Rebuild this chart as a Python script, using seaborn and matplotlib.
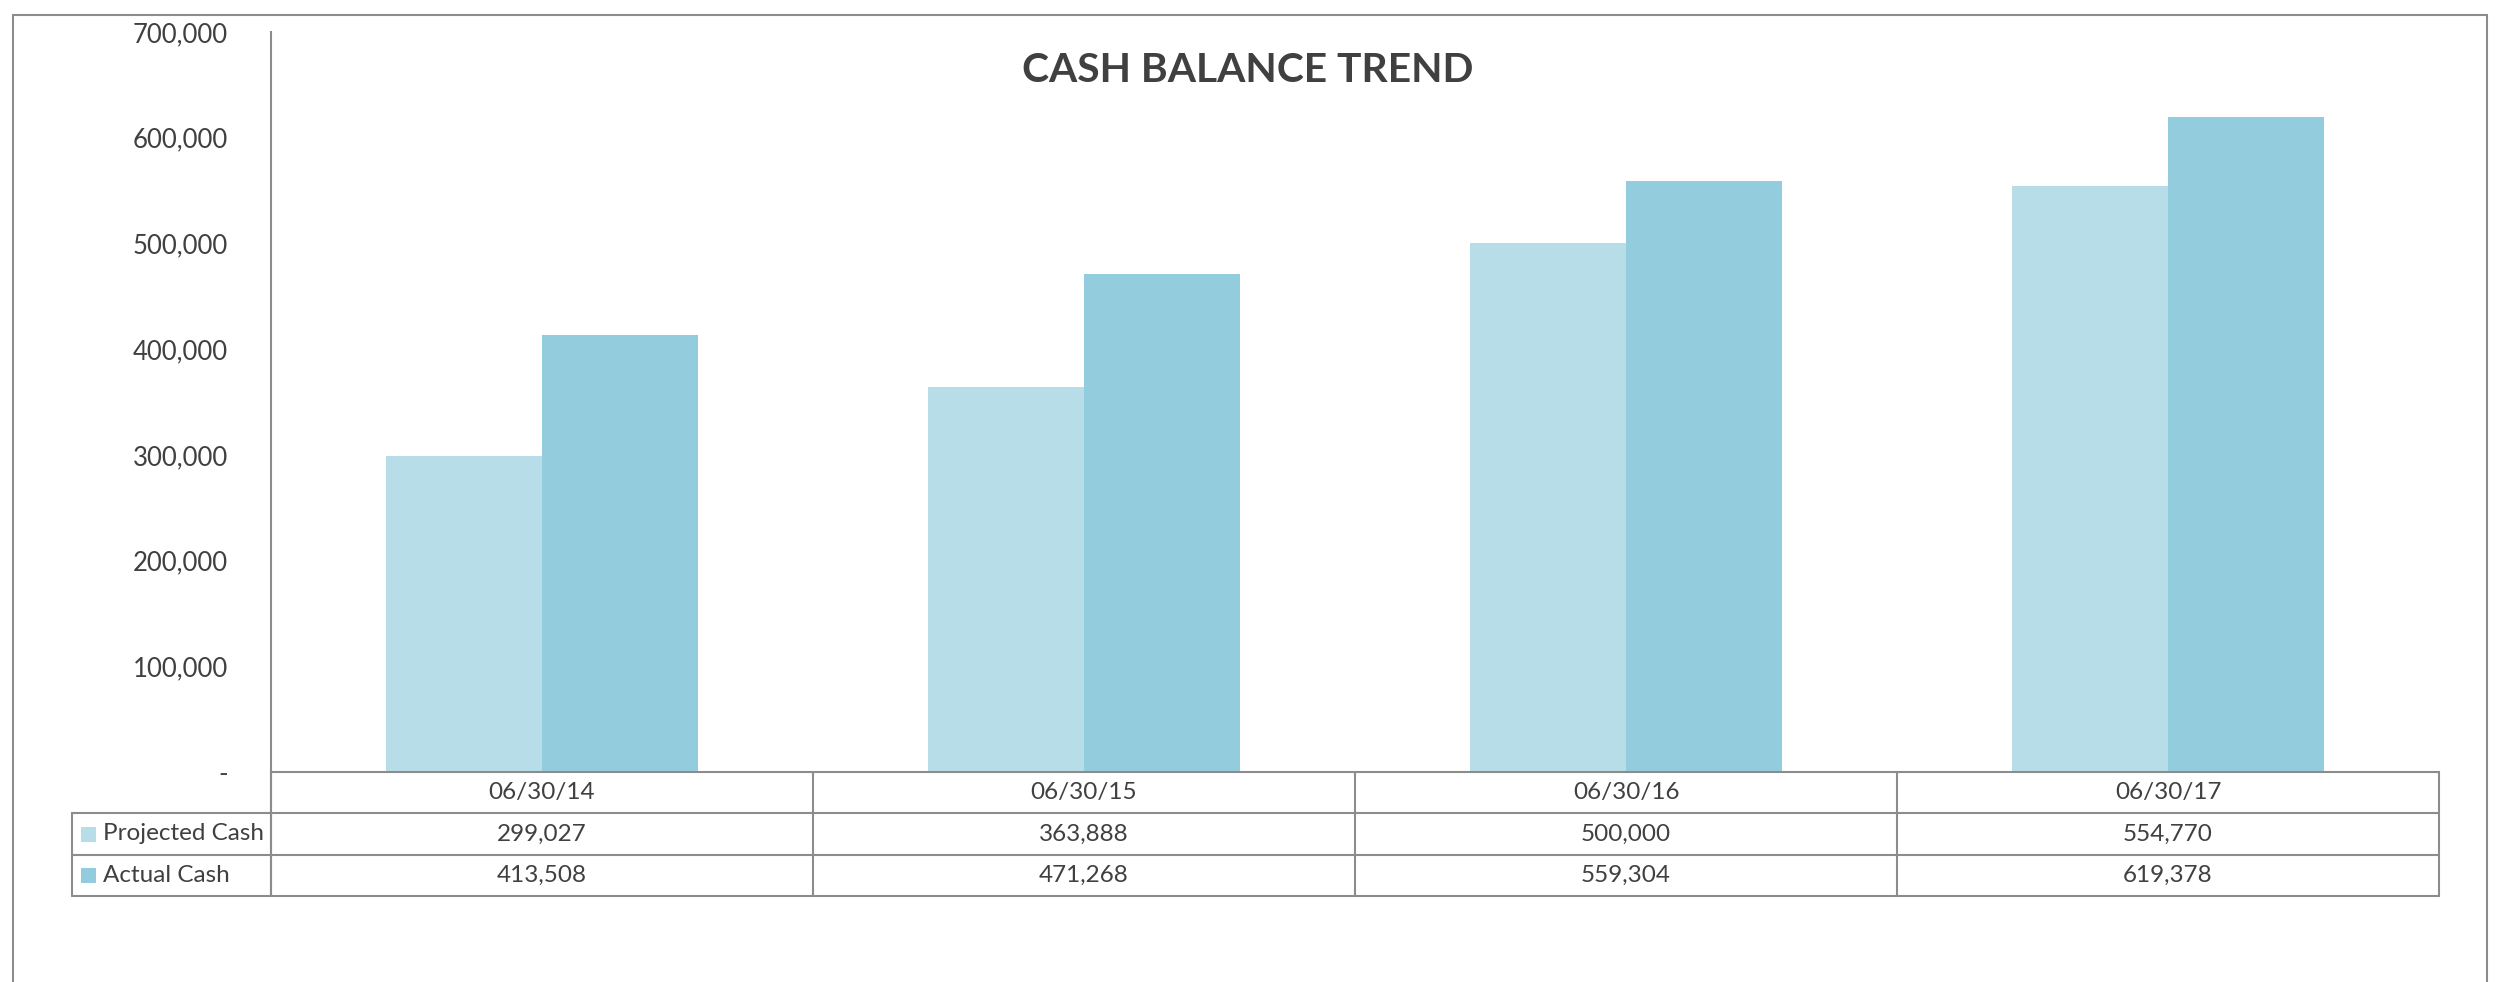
import matplotlib
matplotlib.use("Agg")
import matplotlib.pyplot as plt
import matplotlib.transforms as mtransforms
from matplotlib.lines import Line2D
from matplotlib.patches import Rectangle
import seaborn as sns
import pandas as pd

# data
dates = ["06/30/14", "06/30/15", "06/30/16", "06/30/17"]
projected_cash = [299027, 363888, 500000, 554770]
actual_cash = [413508, 471268, 559304, 619378]
series_names = ["Projected Cash", "Actual Cash"]
series_colors = ["#B7DEE8", "#93CDDD"]
y_ticks = [0, 100000, 200000, 300000, 400000, 500000, 600000, 700000]

sns.set_theme(style="white")
plt.rcParams["font.family"] = ["Lato", "DejaVu Sans"]
text_col = "#404040"
line_col = "#8C8C8C"

W, H = 2502, 982
fig = plt.figure(figsize=(W / 100, H / 100), dpi=100)

def fx(px):
    return px / W

def fy(py):
    return 1 - py / H

# plot area in pixel terms
ax_l, ax_r, ax_t, ax_b = 271, 2439, 32, 772
ax = fig.add_axes([fx(ax_l), fy(ax_b), fx(ax_r - ax_l), fy(ax_t) - fy(ax_b)])

df = pd.DataFrame({
    "date": dates * 2,
    "cash": projected_cash + actual_cash,
    "series": [series_names[0]] * len(dates) + [series_names[1]] * len(dates),
})
sns.barplot(data=df, x="date", y="cash", hue="series", palette=series_colors,
            width=0.574, saturation=1, linewidth=0, legend=False, ax=ax)

ax.set_xlim(-0.5, len(dates) - 0.5)
ax.set_ylim(0, 700000)
ax.set_yticks(y_ticks)
ax.set_yticklabels(["-" if v == 0 else f"{v:,}" for v in y_ticks])
ax.set_xticks([])
ax.set_xlabel("")
ax.set_ylabel("")
ax.tick_params(axis="y", length=0, pad=31, labelsize=18.5, labelcolor=text_col)
for s in ["top", "right"]:
    ax.spines[s].set_visible(False)
for s in ["left", "bottom"]:
    ax.spines[s].set_color(line_col)
    ax.spines[s].set_linewidth(1.5)

fig.text(fx(1248), fy(70), "CASH BALANCE TREND", ha="center", va="center",
         fontsize=29.3, fontweight="bold", color=text_col)

# outer frame (top, left, right)
for xs, ys in [([13, 2487], [15, 15]), ([13, 13], [15, 982]), ([2487, 2487], [15, 982])]:
    fig.add_artist(Line2D([fx(x) for x in xs], [fy(y) for y in ys], color=line_col, lw=1.5))

# data table under the axis
tr = mtransforms.blended_transform_factory(ax.transData, fig.transFigure)
row_y = [772, 813, 855, 896]
tab_left = 72
for y in row_y[1:]:
    fig.add_artist(Line2D([fx(tab_left), fx(ax_r)], [fy(y), fy(y)], color=line_col, lw=1.5))
fig.add_artist(Line2D([fx(tab_left)] * 2, [fy(row_y[1]), fy(row_y[3])], color=line_col, lw=1.5))
fig.add_artist(Line2D([fx(ax_l)] * 2, [fy(row_y[0]), fy(row_y[3])], color=line_col, lw=1.5))
for i in range(len(dates) + 1):
    ax.add_artist(Line2D([i - 0.5] * 2, [fy(row_y[0]), fy(row_y[3])], color=line_col,
                         lw=1.5, transform=tr, clip_on=False))

cell_fs = 17.5
for i, d in enumerate(dates):
    ax.text(i, fy((row_y[0] + row_y[1]) / 2), d, transform=tr, ha="center", va="center",
            fontsize=cell_fs, color=text_col)
    ax.text(i, fy((row_y[1] + row_y[2]) / 2), f"{projected_cash[i]:,}", transform=tr,
            ha="center", va="center", fontsize=cell_fs, color=text_col)
    ax.text(i, fy((row_y[2] + row_y[3]) / 2), f"{actual_cash[i]:,}", transform=tr,
            ha="center", va="center", fontsize=cell_fs, color=text_col)

for k, name in enumerate(series_names):
    yc = (row_y[1 + k] + row_y[2 + k]) / 2
    fig.add_artist(Rectangle((fx(81), fy(yc + 7.5)), fx(15), fy(yc - 7.5) - fy(yc + 7.5),
                             facecolor=series_colors[k], edgecolor="none"))
    fig.text(fx(103), fy(yc), name, ha="left", va="center", fontsize=cell_fs, color=text_col)

fig.savefig("out.png", dpi=100)
